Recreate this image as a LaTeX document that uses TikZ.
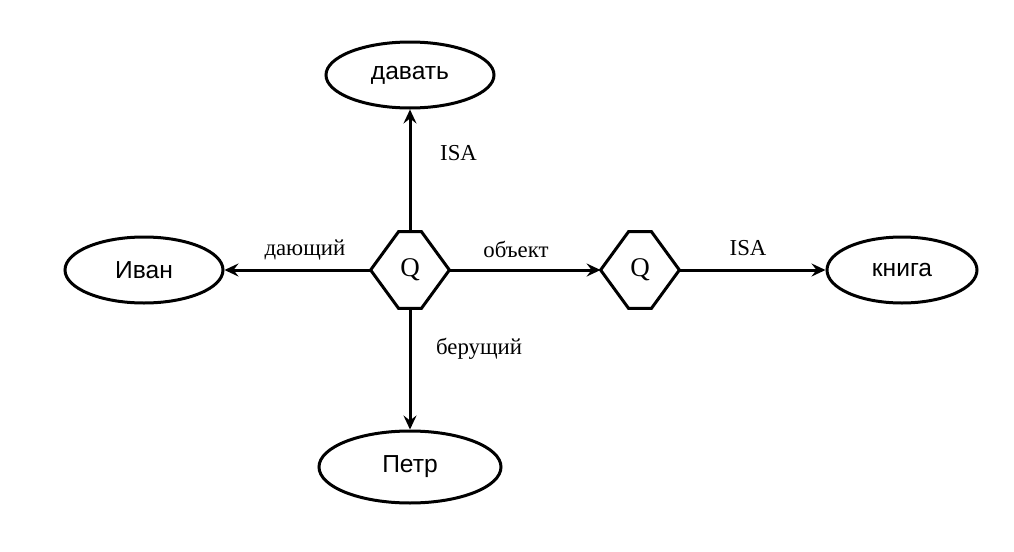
\documentclass[tikz,border=0pt]{standalone}
\usepackage{fontspec}
\setmainfont{Liberation Serif}
\newfontfamily\conceptfont{Liberation Sans}
\usepackage{tikz}
\usetikzlibrary{arrows.meta, shapes.geometric}

\begin{document}
\begin{tikzpicture}[x=0.5pt, y=-0.5pt,
  concept/.style={draw, ellipse, line width=1.5pt, minimum height=33pt, inner sep=0pt, font=\conceptfont\fontsize{12.3}{14}\selectfont},
  quant/.style={minimum width=39pt, minimum height=38pt, inner sep=0pt, font=\fontsize{13.5}{15}\selectfont},
  link/.style={line width=1.5pt, -{Stealth[length=7pt, width=6.5pt, inset=2.5pt]}},
  rel/.style={font=\fontsize{11.4}{13}\selectfont}]

\useasboundingbox (0,0) rectangle (1014,552);

% Concepts
\node[concept, minimum width=84pt] (davat) at (410,75) {давать};
\node[concept, minimum width=79pt] (ivan) at (144,270) {Иван};
\node[concept, minimum width=75pt] (kniga) at (902,270) {книга};
\node[concept, minimum width=91pt, minimum height=36pt] (petr) at (410,467) {Петр};

% Quantifiers
\node[quant] (q1) at (410,270) {Q};
\node[quant] (q2) at (640,270) {Q};
\foreach \q in {q1,q2}
  \draw[line width=1.5pt, line join=miter] (\q.west) -- ([xshift=14pt]\q.north west) -- ([xshift=-14pt]\q.north east)
    -- (\q.east) -- ([xshift=-14pt]\q.south east) -- ([xshift=14pt]\q.south west) -- cycle;

% Relations
\draw[link] (q1.north) -- node[rel, right, pos=0.64, xshift=11pt] {ISA} (davat.south);
\draw[link] (q1.west) -- node[rel, above, pos=0.45, yshift=1pt] {дающий} (ivan.east);
\draw[link] (q1.east) -- node[rel, above, pos=0.44, yshift=2pt] {объект} (q2.west);
\draw[link] (q2.east) -- node[rel, above, pos=0.47, yshift=3pt] {ISA} (kniga.west);
\draw[link] (q1.south) -- node[rel, right, pos=0.33, xshift=9pt] {берущий} (petr.north);

\end{tikzpicture}
\end{document}
